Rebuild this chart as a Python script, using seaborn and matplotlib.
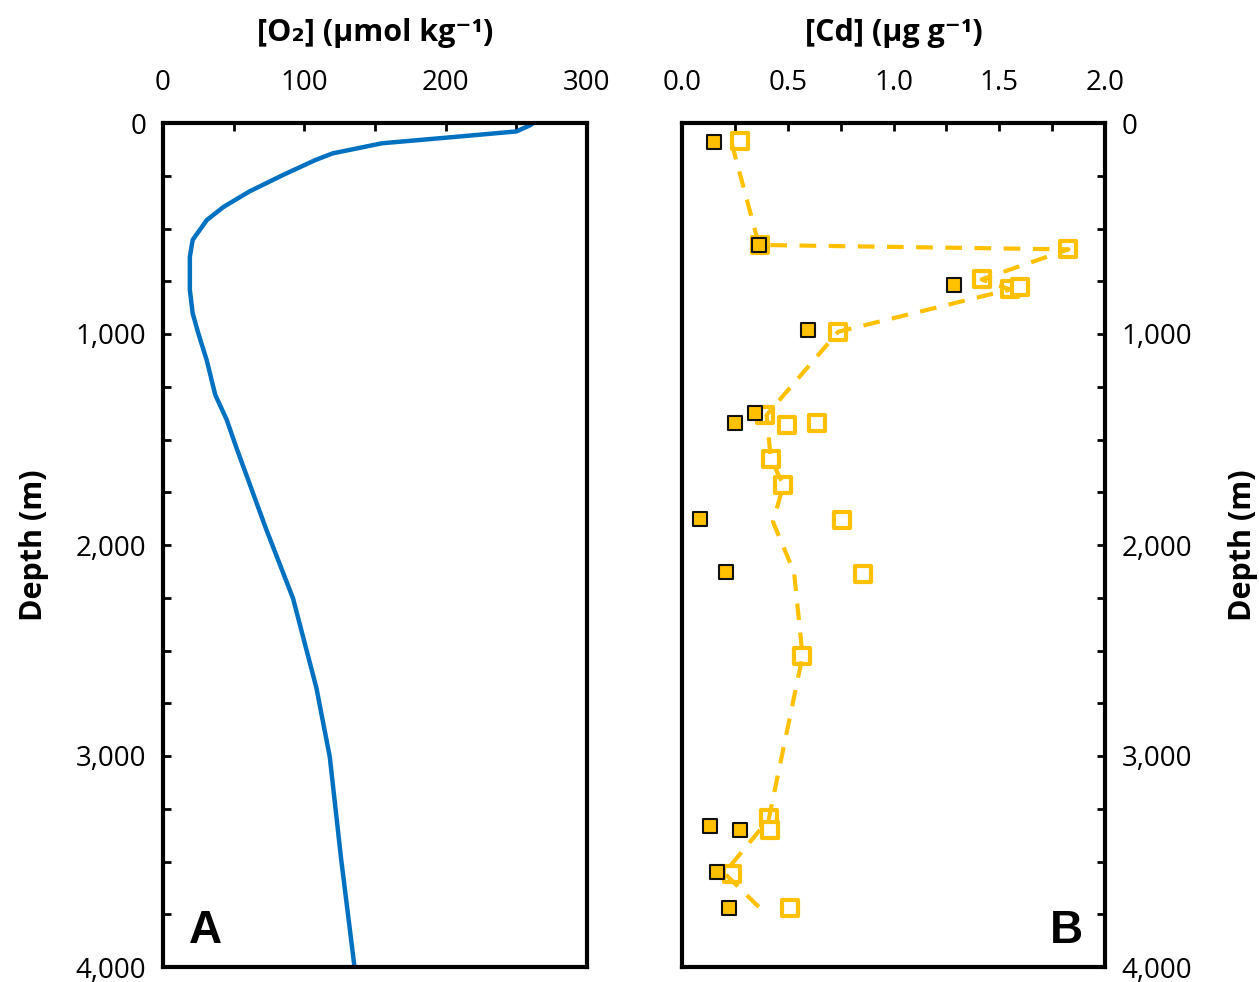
import numpy as np
import pandas as pd
import seaborn as sns
import matplotlib.pyplot as plt
from matplotlib.ticker import MultipleLocator, FuncFormatter

# O2 profile (panel A)
o2_depth = [0, 10, 40, 68, 96, 144, 175, 246, 325, 397, 460, 554, 634, 712, 791,
            902, 997, 1126, 1289, 1405, 1540, 1925, 2253, 2484, 2676, 3004, 3486, 4000]
o2 = [262, 260, 250, 203, 155, 120, 108, 85, 61, 43, 31, 21, 19, 19, 19,
      21, 25, 31, 37, 45, 52, 73, 92, 101, 108.5, 118, 126, 135.5]

# Cd (panel B) - filled squares
cd_fill = [0.153, 0.364, 1.286, 0.597, 0.345, 0.251, 0.085, 0.208, 0.132, 0.274, 0.164, 0.222]
cd_fill_depth = [88, 578, 768, 981, 1376, 1423, 1878, 2126, 3332, 3351, 3552, 3722]

# Cd (panel B) - open squares
cd_open = [0.274, 0.37, 1.827, 1.417, 1.551, 1.598, 0.739, 0.392, 0.495, 0.637,
           0.419, 0.479, 0.755, 0.854, 0.566, 0.413, 0.416, 0.235, 0.511]
cd_open_depth = [85, 580, 599, 741, 789, 776, 989, 1384, 1431, 1420,
                 1592, 1716, 1881, 2137, 2526, 3295, 3351, 3559, 3722]

# dashed profile line
cd_line = [0.235, 0.364, 1.827, 1.417, 1.551, 0.739, 0.40, 0.42, 0.48, 0.43, 0.53, 0.57, 0.41, 0.20, 0.37]
cd_line_depth = [96, 578, 599, 741, 789, 989, 1384, 1592, 1716, 1890, 2130, 2526, 3300, 3555, 3722]

sns.set_style('ticks')
plt.rcParams['font.family'] = ['Open Sans', 'DejaVu Sans']
plt.rcParams['text.color'] = 'black'
plt.rcParams['axes.labelcolor'] = 'black'
plt.rcParams['xtick.color'] = 'black'
plt.rcParams['ytick.color'] = 'black'

gold = '#FFC000'
blue = '#0070C0'

fig = plt.figure(figsize=(12.59, 9.82), dpi=100)
ax1 = fig.add_axes([163/1259, 1-967/982, 424/1259, 844/982])
ax2 = fig.add_axes([682/1259, 1-967/982, 423/1259, 844/982])

sns.lineplot(x=o2, y=o2_depth, sort=False, estimator=None, color=blue, lw=3.2, ax=ax1)

sns.scatterplot(x=cd_open, y=cd_open_depth, marker='s', s=140, color='white',
                edgecolor=gold, linewidth=3, ax=ax2, zorder=2)
sns.lineplot(x=cd_line, y=cd_line_depth, sort=False, estimator=None, color=gold,
             lw=3, ax=ax2, zorder=3)
ax2.lines[-1].set_linestyle((0, (4, 3)))
sns.scatterplot(x=cd_fill, y=cd_fill_depth, marker='s', s=110, color=gold,
                edgecolor='#111111', linewidth=1.5, ax=ax2, zorder=4)

depth_fmt = FuncFormatter(lambda v, p: f'{v:,.0f}')

for ax in (ax1, ax2):
    ax.set_ylim(4000, 0)
    ax.yaxis.set_major_locator(MultipleLocator(1000))
    ax.yaxis.set_minor_locator(MultipleLocator(250))
    ax.yaxis.set_major_formatter(depth_fmt)
    for s in ax.spines.values():
        s.set_visible(True)
        s.set_linewidth(3)
        s.set_color('black')
    ax.xaxis.set_label_position('top')
    ax.tick_params(which='both', direction='in', length=6, width=2, color='black',
                   top=True, bottom=False, labeltop=True, labelbottom=False,
                   labelsize=20, labelcolor='black')
    ax.tick_params(axis='x', pad=19)

ax1.set_xlim(0, 300)
ax1.xaxis.set_major_locator(MultipleLocator(100))
ax1.xaxis.set_minor_locator(MultipleLocator(50))
ax1.tick_params(axis='y', which='both', left=True, right=False, labelleft=True, labelright=False, pad=12)

ax2.set_xlim(0, 2.0)
ax2.xaxis.set_major_locator(MultipleLocator(0.5))
ax2.xaxis.set_minor_locator(MultipleLocator(0.25))
ax2.xaxis.set_major_formatter(FuncFormatter(lambda v, p: f'{v:.1f}'))
ax2.yaxis.set_label_position('right')
ax2.tick_params(axis='y', which='both', left=False, right=True, labelleft=False, labelright=True, pad=12)

lab = dict(fontsize=22, fontweight='bold', color='black')
ax1.set_xlabel('[O\u2082] (\u03bcmol kg\u207b\u00b9)', labelpad=20, **lab)
ax2.set_xlabel('[Cd] (\u03bcg g\u207b\u00b9)', labelpad=20, **lab)
ax1.set_ylabel('Depth (m)', labelpad=19, **lab)
ax2.set_ylabel('Depth (m)', labelpad=26, **lab)

ax1.text(0.099, 0.028, 'A', transform=ax1.transAxes, ha='center', va='baseline',
         fontsize=33, fontweight='bold', family='Liberation Sans', color='black')
ax2.text(0.908, 0.028, 'B', transform=ax2.transAxes, ha='center', va='baseline',
         fontsize=33, fontweight='bold', family='Liberation Sans', color='black')

plt.savefig('out.png', dpi=100)
